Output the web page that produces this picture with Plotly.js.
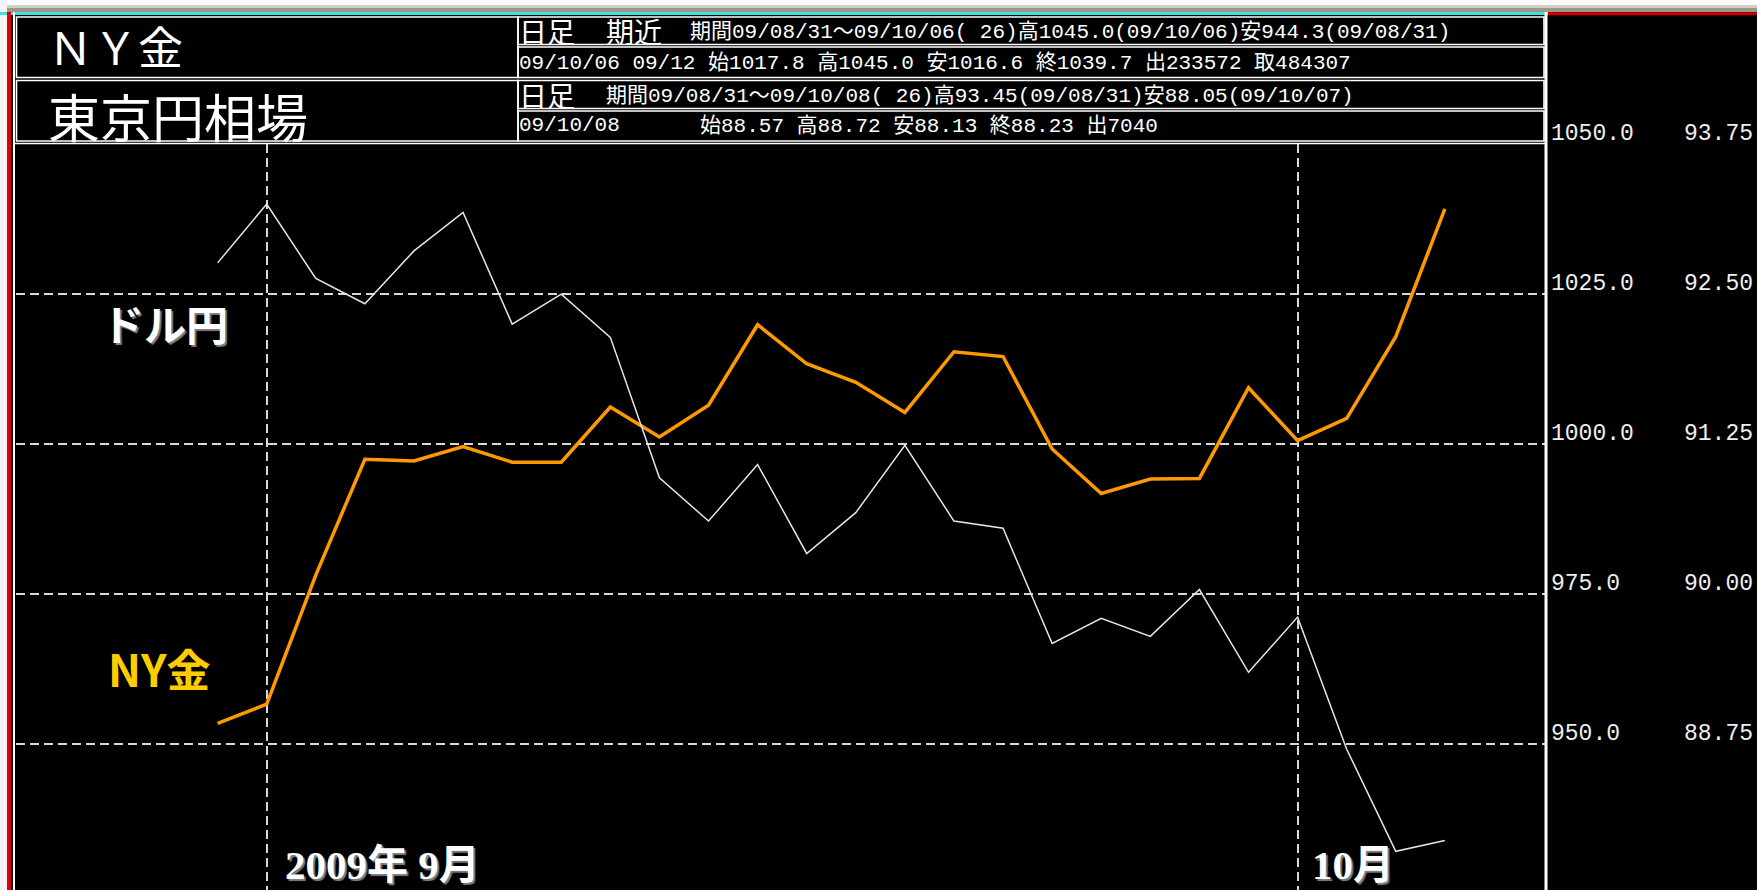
<!DOCTYPE html>
<html><head><meta charset="utf-8">
<script src="https://cdn.plot.ly/plotly-3.0.1.min.js"></script>
<style>html,body{margin:0;padding:0;background:#000;overflow:hidden}#chart{width:1757px;height:890px}</style>
</head><body><div id="chart"></div>
<script>
// ---- data ----
const goldDates = ['08/31','09/01','09/02','09/03','09/04','09/08','09/09','09/10','09/11','09/14','09/15','09/16','09/17','09/18','09/21','09/22','09/23','09/24','09/25','09/28','09/29','09/30','10/01','10/02','10/05','10/06'];
const goldClose = [953.5, 956.7, 978.2, 997.5, 997.2, 999.6, 997.0, 997.0, 1006.2, 1001.2, 1006.5, 1019.9, 1013.4, 1010.3, 1005.3, 1015.4, 1014.6, 999.2, 991.8, 994.2, 994.3, 1009.4, 1000.6, 1004.3, 1017.9, 1039.2];
const yenClose  = [92.76, 93.25, 92.63, 92.42, 92.86, 93.18, 92.25, 92.50, 92.14, 90.97, 90.61, 91.08, 90.34, 90.68, 91.24, 90.61, 90.55, 89.59, 89.80, 89.65, 90.04, 89.35, 89.81, 88.71, 87.86, 87.95];

const goldTickVals = [1050, 1025, 1000, 975, 950, 925];
const goldTickText = ['1050.0', '1025.0', '1000.0', '975.0', '950.0', '925.0'];
const yenTickVals  = [93.75, 92.50, 91.25, 90.00, 88.75, 87.50];
const yenTickText  = ['93.75', '92.50', '91.25', '90.00', '88.75', '87.50'];
const gridVals = [950, 975, 1000, 1025];
const monthDates  = ['09/01', '10/01'];
const monthLabels = ['2009年 9月', '10月'];

const titleGold = 'ＮＹ金';
const titleYen = '東京円相場';
const headBig1 = ['日足', '期近'];
const headRow1 = '期間09/08/31～09/10/06( 26)高1045.0(09/10/06)安944.3(09/08/31)';
const headRow2 = '09/10/06 09/12 始1017.8 高1045.0 安1016.6 終1039.7 出233572 取484307';
const headBig3 = ['日足'];
const headRow3 = '期間09/08/31～09/10/08( 26)高93.45(09/08/31)安88.05(09/10/07)';
const headRow4a = '09/10/08';
const headRow4b = '始88.57 高88.72 安88.13 終88.23 出7040';
const labelYen = 'ドル円';
const labelGold = 'NY金';

// ---- geometry ----
const W = 1757, H = 890, L = 16, R = 211, T = 144, B = 0;
const PW = W - L - R, PH = H - T - B;
const X = p => (p - L) / PW;
const Y = p => (H - B - p) / PH;

const idx = goldDates.map((d, i) => i);
const monthIdx = monthDates.map(d => goldDates.indexOf(d));
const goldRange = [925.75, 1050];
const ratio = (yenTickVals[0] - yenTickVals[yenTickVals.length - 1]) / (goldTickVals[0] - goldTickVals[goldTickVals.length - 1]);
const toYen = g => yenTickVals[yenTickVals.length - 1] + (g - goldTickVals[goldTickVals.length - 1]) * ratio;
const yenRange = goldRange.map(toYen);

const mono = 'Liberation Mono, Noto Sans CJK JP, monospace';
const cjk = 'Noto Sans CJK JP, sans-serif';

const traces = [
  {x: idx, y: goldClose, type: 'scatter', mode: 'lines', name: labelGold,
   line: {color: '#FF9900', width: 3.5}, yaxis: 'y', hoverinfo: 'x+y'},
  {x: idx, y: yenClose, type: 'scatter', mode: 'lines', name: labelYen,
   line: {color: '#E6E6E6', width: 1.5}, yaxis: 'y2', hoverinfo: 'x+y'}
];

const annotations = [];
goldTickVals.forEach((v, i) => annotations.push({
  xref: 'paper', yref: 'y', x: X(1549), y: v, xanchor: 'left', yanchor: 'bottom', yshift: -5,
  text: goldTickText[i], showarrow: false, font: {family: mono, size: 23, color: '#EEEEEE'}
}));
yenTickVals.forEach((v, i) => annotations.push({
  xref: 'paper', yref: 'y2', x: X(1755), y: v, xanchor: 'right', yanchor: 'bottom', yshift: -5,
  text: yenTickText[i], showarrow: false, font: {family: mono, size: 23, color: '#EEEEEE'}
}));
monthIdx.forEach((m, i) => annotations.push({
  xref: 'x', yref: 'paper', x: m, y: 0, xanchor: 'left', yanchor: 'bottom', xshift: i === 0 ? 16 : 12, yshift: 0,
  text: monthLabels[i], showarrow: false,
  font: {family: 'Liberation Serif, Noto Sans CJK JP, serif', size: 41, color: '#FFFFFF', weight: 'bold', shadow: '2px 2px 1px #808080'}
}));
annotations.push({xref: 'paper', yref: 'paper', x: X(165), y: Y(322), xanchor: 'center', yanchor: 'middle',
  text: labelYen, showarrow: false, font: {family: cjk, size: 42, color: '#FFFFFF', weight: 'bold', shadow: '2px 2px 1px #808080'}});
annotations.push({xref: 'paper', yref: 'paper', x: X(159), y: Y(668), xanchor: 'center', yanchor: 'middle',
  text: labelGold, showarrow: false, font: {family: cjk, size: 44, color: '#FFCC00', weight: 'bold'}});

// header texts
annotations.push({xref: 'paper', yref: 'paper', x: X(46), y: Y(45), xanchor: 'left', yanchor: 'middle',
  text: titleGold, showarrow: false, font: {family: cjk, size: 45, color: '#FFFFFF'}});
annotations.push({xref: 'paper', yref: 'paper', x: X(46), y: Y(115), xanchor: 'left', yanchor: 'middle',
  text: titleYen, showarrow: false, font: {family: cjk, size: 52, color: '#FFFFFF'}});
annotations.push({xref: 'paper', yref: 'paper', x: X(517), y: Y(31), xanchor: 'left', yanchor: 'middle',
  text: headBig1[0], showarrow: false, font: {family: cjk, size: 28, color: '#FFFFFF'}});
annotations.push({xref: 'paper', yref: 'paper', x: X(604), y: Y(31), xanchor: 'left', yanchor: 'middle',
  text: headBig1[1], showarrow: false, font: {family: cjk, size: 28, color: '#FFFFFF'}});
annotations.push({xref: 'paper', yref: 'paper', x: X(688), y: Y(32), xanchor: 'left', yanchor: 'middle',
  text: headRow1, showarrow: false, font: {family: mono, size: 21, color: '#FFFFFF'}});
annotations.push({xref: 'paper', yref: 'paper', x: X(517), y: Y(63), xanchor: 'left', yanchor: 'middle',
  text: headRow2, showarrow: false, font: {family: mono, size: 21, color: '#FFFFFF'}});
annotations.push({xref: 'paper', yref: 'paper', x: X(517), y: Y(95), xanchor: 'left', yanchor: 'middle',
  text: headBig3[0], showarrow: false, font: {family: cjk, size: 28, color: '#FFFFFF'}});
annotations.push({xref: 'paper', yref: 'paper', x: X(604), y: Y(96), xanchor: 'left', yanchor: 'middle',
  text: headRow3, showarrow: false, font: {family: mono, size: 21, color: '#FFFFFF'}});
annotations.push({xref: 'paper', yref: 'paper', x: X(517), y: Y(126), xanchor: 'left', yanchor: 'middle',
  text: headRow4a, showarrow: false, font: {family: mono, size: 21, color: '#FFFFFF'}});
annotations.push({xref: 'paper', yref: 'paper', x: X(698), y: Y(126), xanchor: 'left', yanchor: 'middle',
  text: headRow4b, showarrow: false, font: {family: mono, size: 21, color: '#FFFFFF'}});

// shapes (frame & header boxes)
const shapes = [];
const rect = (x0, y0, x1, y1, fill, lineColor, lw) => shapes.push({type: 'rect', xref: 'paper', yref: 'paper',
  x0: X(x0), x1: X(x1), y0: Y(y0), y1: Y(y1), fillcolor: fill || 'rgba(0,0,0,0)',
  line: {color: lineColor || 'rgba(0,0,0,0)', width: lw || 0}, layer: 'above'});
const line = (x0, y0, x1, y1, color, lw) => shapes.push({type: 'line', xref: 'paper', yref: 'paper',
  x0: X(x0), x1: X(x1), y0: Y(y0), y1: Y(y1), line: {color: color, width: lw}, layer: 'above'});

rect(0, 0, W, 5, '#FFFFFF');
rect(0, 5, W, 8, '#D2CEC4');
rect(0, 8, W, 12, '#9C9888');
rect(0, 0, 7, H, '#F4F4F4');
line(0, 13.5, 1548, 13.5, '#40E0E0', 3);
line(1548, 13.8, W, 13.8, '#D00000', 3);
line(9, 12, 9, H, '#E00000', 4);
line(14, 12, 14, H, '#FFFFFF', 2);
line(1546, 12, 1546, H, '#FFFFFF', 3);
// title boxes
rect(16.5, 17, 518, 77.5, null, '#FFFFFF', 1.6);
rect(16.5, 80.5, 518, 141, null, '#FFFFFF', 1.6);
// info rows
rect(518, 17, 1544, 44.5, null, '#FFFFFF', 1.6);
rect(518, 47, 1544, 77.5, null, '#FFFFFF', 1.6);
rect(518, 80.5, 1544, 108.5, null, '#FFFFFF', 1.6);
rect(518, 111, 1544, 141, null, '#FFFFFF', 1.6);
line(14, 143.5, 1546, 143.5, '#FFFFFF', 1.6);

const gridStyle = {showgrid: true, gridcolor: '#D8D8D8', gridwidth: 2, griddash: '9px,5px',
  zeroline: false, showline: false, showticklabels: false, ticks: '', fixedrange: true};

const layout = {
  width: W, height: H,
  margin: {l: L, r: R, t: T, b: B, pad: 0, autoexpand: false},
  paper_bgcolor: '#000000', plot_bgcolor: '#000000',
  showlegend: false,
  xaxis: Object.assign({}, gridStyle, {range: [-4.107, 27.06], tickvals: monthIdx}),
  yaxis: Object.assign({}, gridStyle, {range: goldRange, tickvals: gridVals}),
  yaxis2: {overlaying: 'y', side: 'right', range: yenRange, showgrid: false, zeroline: false,
    showline: false, showticklabels: false, ticks: '', fixedrange: true},
  annotations: annotations,
  shapes: shapes
};

Plotly.newPlot('chart', traces, layout, {displayModeBar: false, staticPlot: true});
</script>
</body></html>
